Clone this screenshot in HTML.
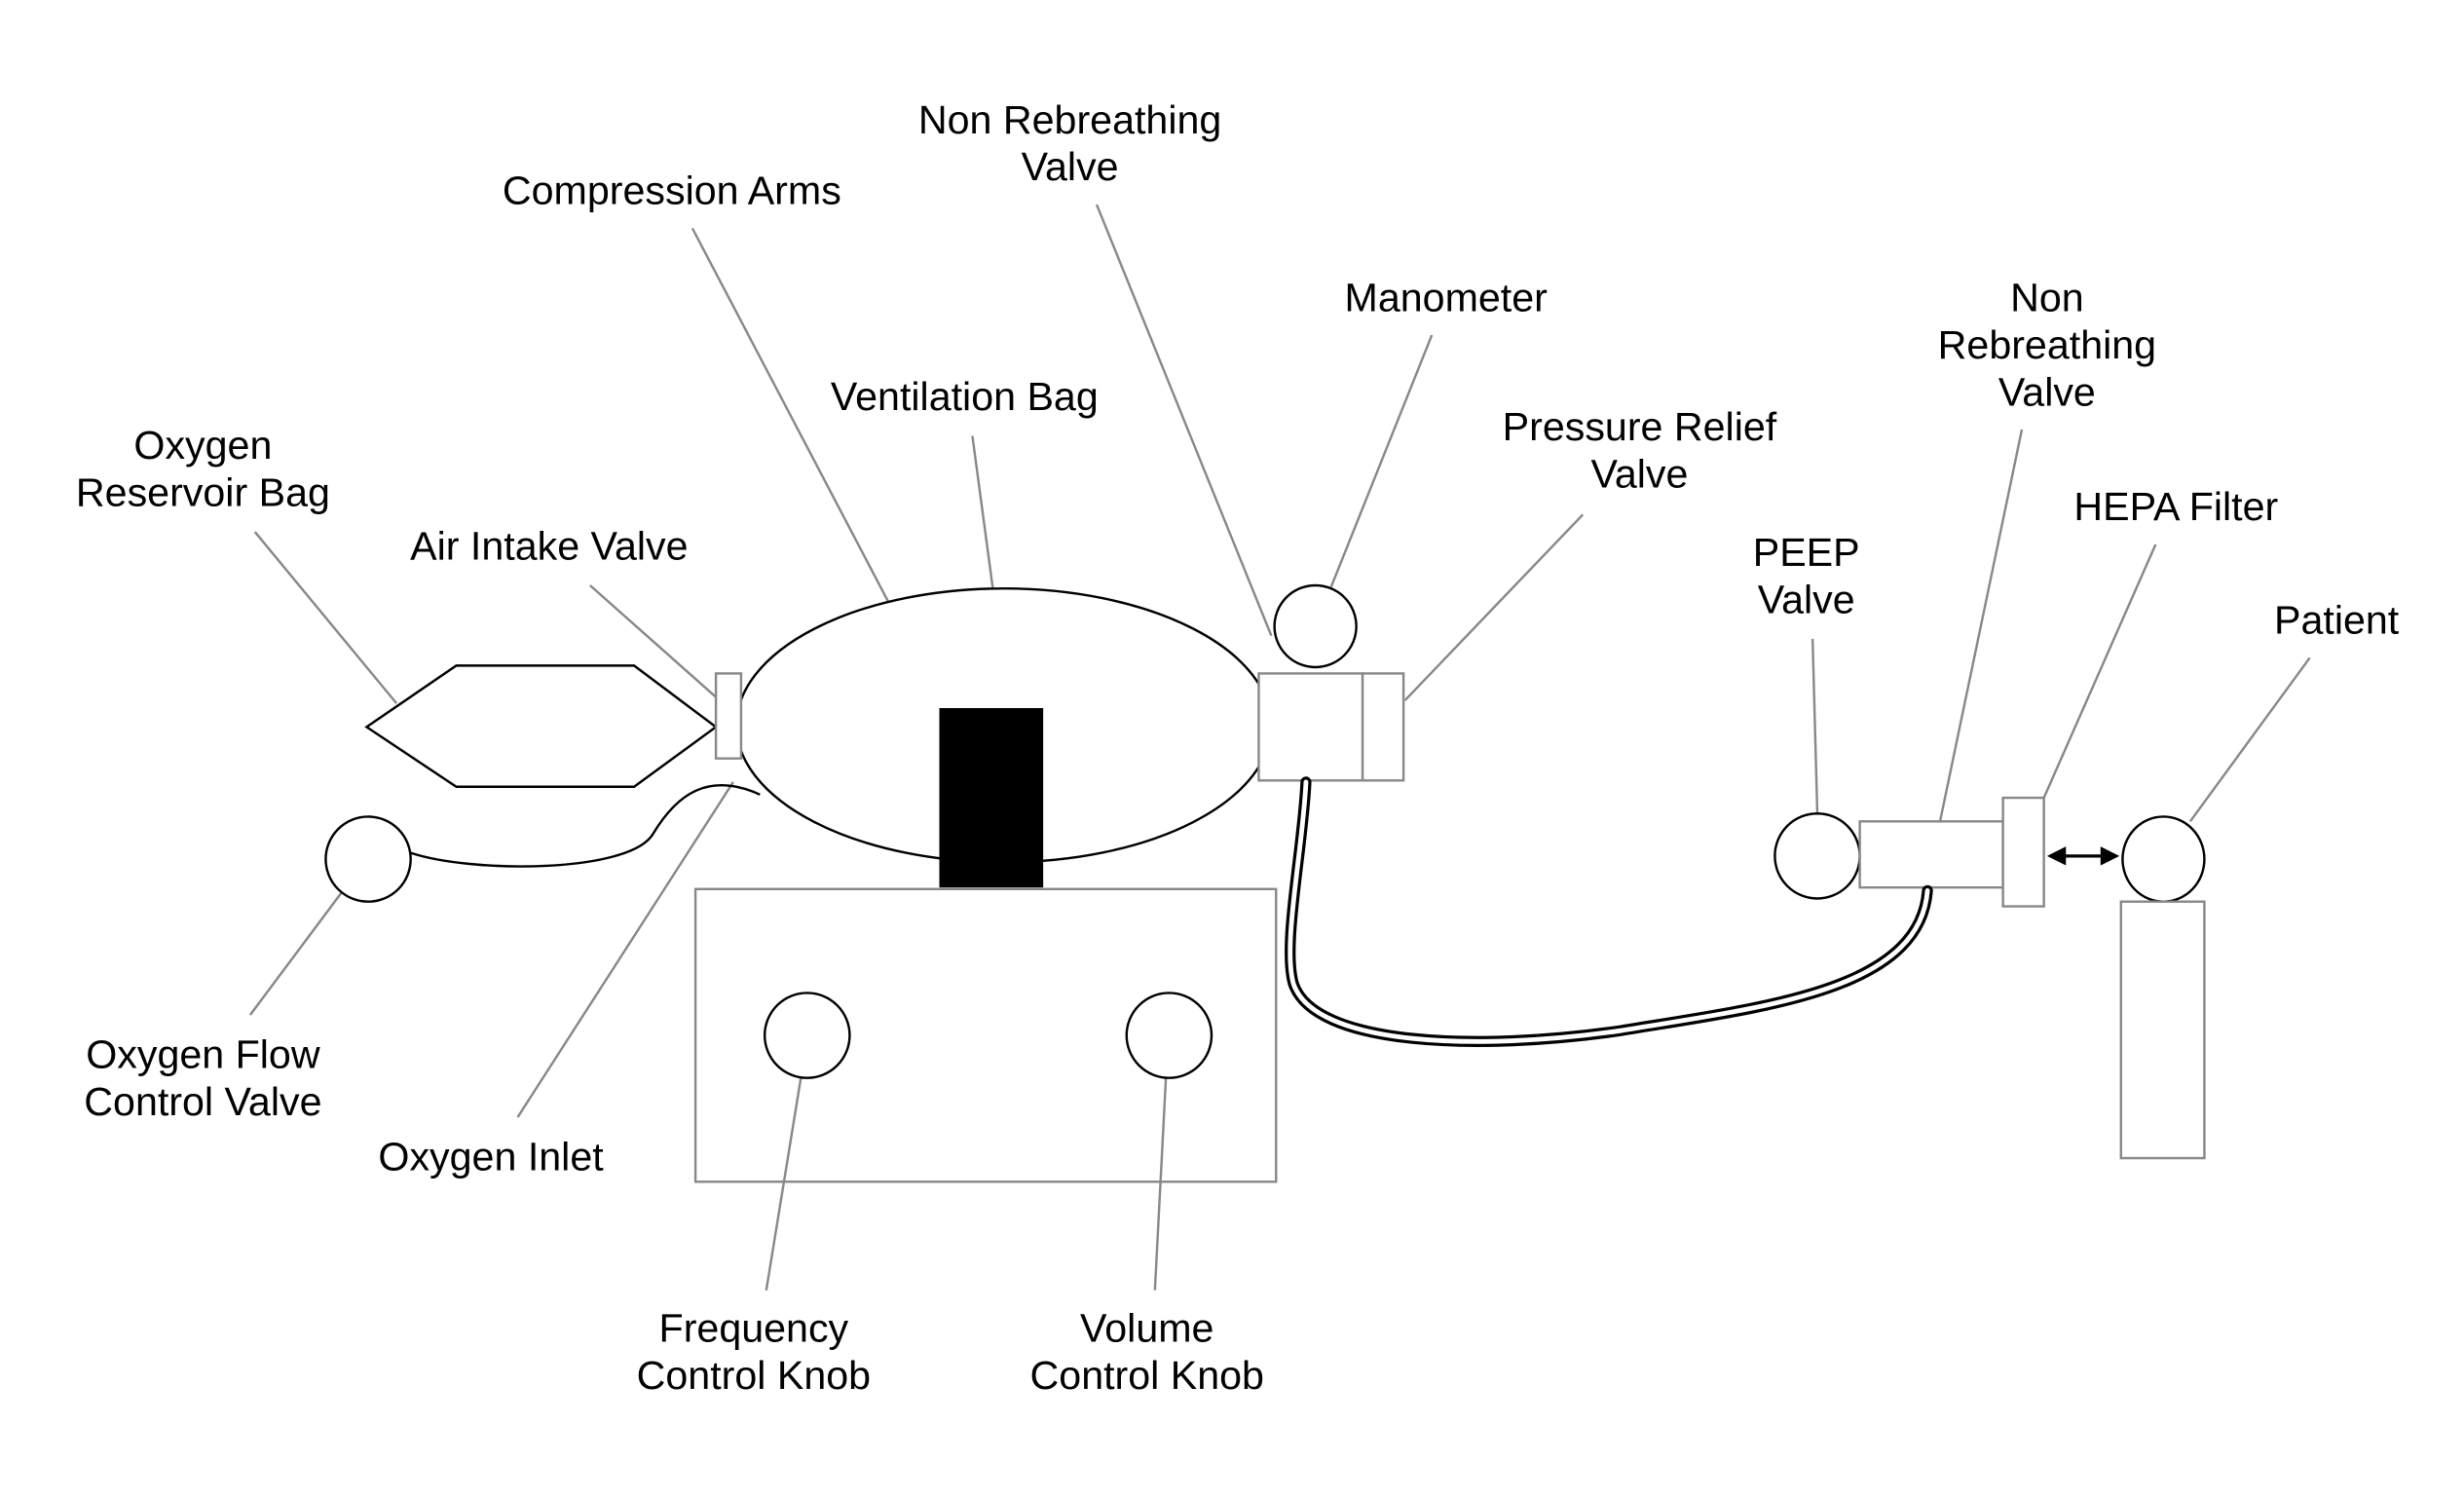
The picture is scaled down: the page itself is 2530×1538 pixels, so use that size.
<!DOCTYPE html>
<html><head><meta charset="utf-8"><style>html,body{margin:0;padding:0;background:#fff}svg{display:block}</style></head>
<body>
<svg width="2530" height="1538" viewBox="0 0 1566 952" preserveAspectRatio="none" xmlns="http://www.w3.org/2000/svg">
<g fill="none" stroke="#888" stroke-width="1.5">
<line x1="162" y1="338" x2="252" y2="447"/>
<line x1="375" y1="372" x2="455" y2="443"/>
<line x1="440" y1="145" x2="600" y2="450"/>
<line x1="618" y1="277" x2="631" y2="374"/>
<line x1="697" y1="130" x2="808" y2="404"/>
<line x1="910" y1="213" x2="846" y2="373"/>
<line x1="1006" y1="327" x2="893" y2="445"/>
<line x1="1152" y1="406" x2="1155" y2="517"/>
<line x1="1285" y1="273" x2="1233" y2="522"/>
<line x1="1370" y1="346" x2="1299" y2="507"/>
<line x1="1468" y1="418" x2="1392" y2="522"/>
<line x1="159" y1="645" x2="218" y2="566"/>
<line x1="329" y1="710" x2="466" y2="497"/>
</g>
<g stroke="#000" stroke-width="1.5" fill="#fff">
<polygon points="233,462 290,423 403,423 455,462 403,500 290,500"/>
<ellipse cx="638" cy="461" rx="170" ry="87"/>
<circle cx="836" cy="398" r="26"/>
<circle cx="234" cy="546" r="27"/>
<circle cx="1155" cy="544" r="27"/>
<ellipse cx="1375" cy="546" rx="26" ry="27"/>
<path d="M261,542 C300,555 400,555 415,530 C430,505 450,490 483,505" fill="none"/>
</g>
<g stroke="#888" stroke-width="1.5" fill="#fff">
<rect x="455" y="428" width="16" height="54"/>
<rect x="442" y="565" width="369" height="186"/>
<rect x="800" y="428" width="66" height="68"/>
<rect x="866" y="428" width="26" height="68"/>
<rect x="1182" y="522" width="91" height="42"/>
<rect x="1273" y="507" width="26" height="69"/>
<rect x="1348" y="573" width="53" height="163"/>
</g>
<g fill="none" stroke="#888" stroke-width="1.5">
<line x1="487" y1="820" x2="509" y2="685"/>
<line x1="734" y1="820" x2="741" y2="685"/>
</g>
<rect x="597" y="450" width="66" height="114" fill="#000"/>
<g stroke="#000" stroke-width="1.5" fill="none">
<circle cx="513" cy="658" r="27"/>
<circle cx="743" cy="658" r="27"/>
</g>
<path d="M830,497 C828,540 815,600 822,625 C835,665 940,668 1030,655 C1120,640 1220,630 1225,566" fill="none" stroke="#000" stroke-width="7" stroke-linecap="round"/>
<path d="M830,497 C828,540 815,600 822,625 C835,665 940,668 1030,655 C1120,640 1220,630 1225,566" fill="none" stroke="#fff" stroke-width="3" stroke-linecap="round"/>
<line x1="1310" y1="544" x2="1338" y2="544" stroke="#000" stroke-width="2"/>
<polygon points="1301,544 1313,538 1313,550" fill="#000"/>
<polygon points="1347,544 1335,538 1335,550" fill="#000"/>
<g font-family="Liberation Sans, sans-serif" font-size="25.5" fill="#000" text-anchor="middle" dominant-baseline="central">
<text x="129" y="283">Oxygen</text><text x="129" y="313">Reservoir Bag</text>
<text x="349" y="347">Air Intake Valve</text>
<text x="427" y="121">Compression Arms</text>
<text x="613" y="252">Ventilation Bag</text>
<text x="680" y="76">Non Rebreathing</text><text x="680" y="106">Valve</text>
<text x="919" y="189">Manometer</text>
<text x="1042" y="271">Pressure Relief</text><text x="1042" y="301">Valve</text>
<text x="1148" y="351">PEEP</text><text x="1148" y="381">Valve</text>
<text x="1301" y="189">Non</text><text x="1301" y="219">Rebreathing</text><text x="1301" y="249">Valve</text>
<text x="1383" y="322">HEPA Filter</text>
<text x="1485" y="394">Patient</text>
<text x="129" y="670">Oxygen Flow</text><text x="129" y="700">Control Valve</text>
<text x="312" y="735">Oxygen Inlet</text>
<text x="479" y="844">Frequency</text><text x="479" y="874">Control Knob</text>
<text x="729" y="844">Volume</text><text x="729" y="874">Control Knob</text>
</g>
</svg>
</body></html>
